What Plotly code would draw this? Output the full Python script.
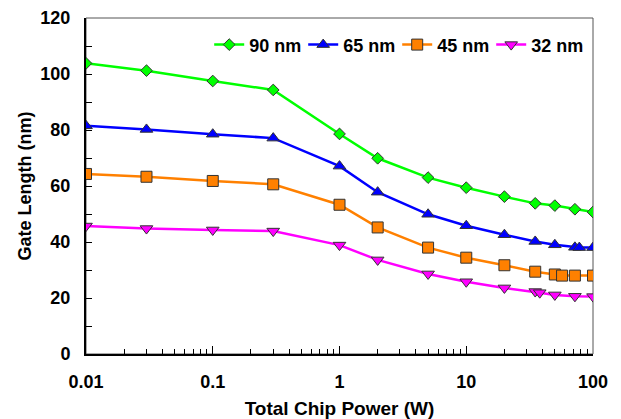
import plotly.graph_objects as go

# Data
x_90 = [0.01, 0.03, 0.1, 0.3, 1, 2, 5, 10, 20, 35, 50, 72, 100]
y_90 = [103.8, 101.2, 97.5, 94.3, 78.6, 69.9, 63.0, 59.4, 56.2, 53.8, 53.0, 51.7, 50.7]

x_65 = [0.01, 0.03, 0.1, 0.3, 1, 2, 5, 10, 20, 35, 50, 72, 78, 100]
y_65 = [81.5, 80.2, 78.5, 77.1, 67.1, 57.8, 49.9, 45.8, 42.6, 40.2, 39.0, 38.1, 38.0, 38.0]

x_45 = [0.01, 0.03, 0.1, 0.3, 1, 2, 5, 10, 20, 35, 50, 57, 72, 100]
y_45 = [64.3, 63.3, 61.8, 60.6, 53.3, 45.2, 38.0, 34.4, 31.7, 29.4, 28.4, 28.0, 28.0, 28.0]

x_32 = [0.01, 0.03, 0.1, 0.3, 1, 2, 5, 10, 20, 35, 38, 50, 72, 100]
y_32 = [45.7, 44.8, 44.3, 43.9, 38.9, 33.6, 28.6, 25.8, 23.6, 22.3, 21.9, 21.1, 20.6, 20.5]

series = [
    ("90 nm", x_90, y_90, "#00FF00", "diamond", 9),
    ("65 nm", x_65, y_65, "#0000FF", "triangle-up", 11),
    ("45 nm", x_45, y_45, "#FF8000", "square", 11),
    ("32 nm", x_32, y_32, "#FF00FF", "triangle-down", 11),
]

FONT = "Liberation Sans, Arial, sans-serif"

fig = go.Figure()
for name, xs, ys, col, sym, sz in series:
    fig.add_trace(go.Scatter(
        x=xs, y=ys, name=name, mode="lines+markers",
        line=dict(color=col, width=2.5),
        marker=dict(symbol=sym, size=sz, color=col,
                    line=dict(color="#333333", width=1)),
    ))

fig.update_layout(
    width=621, height=419,
    margin=dict(l=86, r=28, t=18, b=65, autoexpand=False),
    paper_bgcolor="white", plot_bgcolor="white",
    font=dict(family=FONT, size=18, color="black", weight="bold"),
    showlegend=True,
    legend=dict(orientation="h", x=0.243, y=0.975, xanchor="left", yanchor="top",
                bgcolor="rgba(0,0,0,0)", itemwidth=30,
                entrywidth=49, entrywidthmode="pixels",
                font=dict(family=FONT, size=18, weight="bold")),
)

fig.update_xaxes(
    type="log", range=[-2, 2], automargin=False,
    tickvals=[0.01, 0.1, 1, 10, 100], ticktext=["0.01", "0.1", "1", "10", "100"],
    tickfont=dict(size=18, weight="bold"),
    ticks="inside", ticklen=8, tickwidth=1, tickcolor="black",
    minor=dict(ticks="inside", ticklen=5, tickwidth=1, tickcolor="black",
               tickvals=[m * d for d in [0.01, 0.1, 1, 10] for m in range(2, 10)]),
    showline=True, linecolor="black", linewidth=2, mirror=False,
    showgrid=False, zeroline=False,
    ticklabelstandoff=10,
    title=dict(text="Total Chip Power (W)", font=dict(size=19, weight="bold"), standoff=12),
)
fig.update_yaxes(
    range=[0, 120], dtick=20, automargin=False,
    tickfont=dict(size=18, weight="bold"),
    ticks="inside", ticklen=6, tickwidth=1, tickcolor="black",
    minor=dict(ticks="inside", ticklen=6, dtick=10, tickcolor="black"),
    showline=True, linecolor="black", linewidth=2, mirror=False,
    showgrid=False, zeroline=False,
    ticklabelstandoff=10,
    title=dict(text="Gate Length (nm)", font=dict(size=18, weight="bold"), standoff=4),
)

# thin frame on top and right
fig.add_shape(type="rect", xref="paper", yref="paper", x0=0, y0=0, x1=1, y1=1,
              line=dict(color="#555555", width=1), fillcolor="rgba(0,0,0,0)", layer="below")

fig.write_html("out.html", config={"displayModeBar": False},
               post_script="document.body.style.margin='0';")
